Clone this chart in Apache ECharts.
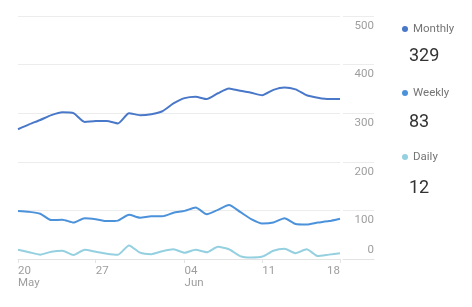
<!DOCTYPE html>
<html>
<head>
<meta charset="utf-8">
<script src="https://cdn.jsdelivr.net/npm/echarts@6/dist/echarts.min.js"></script>
<style>
html,body{margin:0;padding:0;background:#fff;}
#c{width:472px;height:307px;}
</style>
</head>
<body>
<div id="c"></div>
<script>
const categories = ['2018-05-20','2018-05-21','2018-05-22','2018-05-23','2018-05-24','2018-05-25','2018-05-26','2018-05-27','2018-05-28','2018-05-29','2018-05-30','2018-05-31','2018-06-01','2018-06-02','2018-06-03','2018-06-04','2018-06-05','2018-06-06','2018-06-07','2018-06-08','2018-06-09','2018-06-10','2018-06-11','2018-06-12','2018-06-13','2018-06-14','2018-06-15','2018-06-16','2018-06-17','2018-06-18'];
const monthly = [267,277,286,296,302,300,282,284,284,279,300,296,298,304,320,331,334,329,341,351,346,342,337,348,353,349,337,332,329,329];
const weekly = [99,97,93,80,81,75,84,82,78,79,91,85,88,88,95,99,106,92,101,111,97,82,73,75,84,72,71,75,78,83];
const daily = [19,14,9,15,17,8,19,15,11,9,28,13,10,16,20,13,19,14,25,20,6,3,5,17,21,12,20,6,9,12];
const seriesNames = ['Monthly','Weekly','Daily'];
const seriesColors = ['#4a78c9','#4c92da','#94d0e0'];
const tickDates = ['2018-05-20','2018-05-27','2018-06-04','2018-06-11','2018-06-18'];
const tickLabels = ['20\nMay','27','04\nJun','11','18'];
const yTicks = [0,100,200,300,400,500];

const font = 'Roboto';
const gridColor = '#ececec';
const allData = [monthly, weekly, daily];

const chart = echarts.init(document.getElementById('c'));
const showTick = (i, v) => tickDates.indexOf(categories[i]) >= 0;
chart.setOption({
  animation: false,
  grid: [
    {left: 18, right: 132, top: 16, bottom: 48},
    {left: 343, right: 98, top: 16, bottom: 48}
  ],
  xAxis: [
    {
      type: 'category', gridIndex: 0, data: categories, boundaryGap: false,
      axisLine: {show: true, lineStyle: {color: '#e3e3e3', width: 1}},
      axisTick: {show: true, interval: showTick, length: 4, lineStyle: {color: '#e3e3e3'}},
      axisLabel: {
        interval: showTick, align: 'left', alignMaxLabel: 'right',
        margin: 6, color: '#9e9e9e', fontFamily: font, fontSize: 11.5, lineHeight: 12,
        formatter: (v) => tickLabels[tickDates.indexOf(v)]
      },
      splitLine: {show: false}
    },
    {
      type: 'category', gridIndex: 1, data: ['a','b'], boundaryGap: false,
      axisLine: {show: true, lineStyle: {color: '#e3e3e3', width: 1}},
      axisTick: {show: false}, axisLabel: {show: false}
    }
  ],
  yAxis: [
    {
      type: 'value', gridIndex: 0, position: 'right', min: 0, max: 500, interval: 100,
      axisLine: {show: false}, axisTick: {show: false},
      splitLine: {show: true, lineStyle: {color: gridColor, width: 1}},
      axisLabel: {
        align: 'right', margin: 34, color: '#9e9e9e', fontFamily: font, fontSize: 11.5,
        formatter: (v) => v === 0 ? '{z|' + v + '}' : '{n|' + v + '}',
        rich: {
          n: {padding: [20, 0, 0, 0], color: '#9e9e9e', fontFamily: font, fontSize: 11.5},
          z: {padding: [0, 0, 18, 0], color: '#9e9e9e', fontFamily: font, fontSize: 11.5}
        }
      }
    },
    {
      type: 'value', gridIndex: 1, min: 0, max: 500, interval: 100,
      axisLine: {show: false}, axisTick: {show: false}, axisLabel: {show: false},
      splitLine: {show: true, lineStyle: {color: gridColor, width: 1}}
    }
  ],
  legend: {
    orient: 'vertical', left: 397, top: 18, itemWidth: 6, itemHeight: 6, itemGap: 52,
    icon: 'circle', data: seriesNames,
    textStyle: {color: '#757575', fontFamily: font, fontSize: 11.5}
  },
  title: seriesNames.map((n, k) => ({
    text: String(allData[k][allData[k].length - 1]),
    left: 409, top: 47 + k * 66, padding: 0,
    textStyle: {color: '#333', fontFamily: font, fontSize: 18, fontWeight: 'normal'}
  })),
  series: seriesNames.map((n, k) => ({
    name: n, type: 'line', xAxisIndex: 0, yAxisIndex: 0, data: allData[k],
    smooth: 0.2, showSymbol: false, symbol: 'circle',
    color: seriesColors[k],
    lineStyle: {width: 2, color: seriesColors[k]}
  }))
});
</script>
</body>
</html>
